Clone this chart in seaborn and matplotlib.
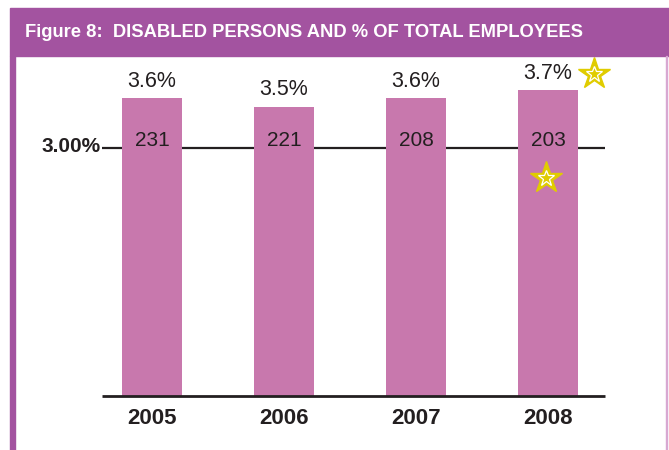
import matplotlib
matplotlib.use("Agg")
import matplotlib.pyplot as plt
import matplotlib.patches as mpatches
import seaborn as sns
import pandas as pd

# Data
years = ["2005", "2006", "2007", "2008"]
pct_of_total = [3.6, 3.5, 3.6, 3.7]
disabled_count = [231, 221, 208, 203]
target_pct = 3.00
title = "Figure 8:  DISABLED PERSONS AND % OF TOTAL EMPLOYEES"

BAR = "#c878ad"
PURPLE = "#a353a0"
INK = "#231f20"
GOLD = "#e0cc00"

sns.set_theme(style="white")
plt.rcParams["font.family"] = ["Liberation Sans", "DejaVu Sans"]

W, H = 669, 450
fig = plt.figure(figsize=(W / 100, H / 100), dpi=100)

# Axes cover the full canvas; limits chosen so bars land in the panel
ax = fig.add_axes([0, 0, 1, 1])
px_per_x = 132.0
px_per_y = 82.67
x0_px, y0_px = 152.0, 396.0
xlim = (-x0_px / px_per_x, (W - x0_px) / px_per_x)
ylim = (-(H - y0_px) / px_per_y, y0_px / px_per_y)

df = pd.DataFrame({"year": years, "pct": pct_of_total, "count": disabled_count})

# Target line behind the bars
ax.plot([-0.38, 3.43], [target_pct, target_pct], color=INK, lw=1.6, zorder=1,
        solid_capstyle="butt")
sns.barplot(data=df, x="year", y="pct", color=BAR, width=0.455, saturation=1,
            linewidth=0, ax=ax, zorder=2)
ax.set_xlim(*xlim)
ax.set_ylim(*ylim)
ax.axis("off")

# Baseline
ax.plot([-0.38, 3.43], [0, 0], color=INK, lw=2.0, zorder=3, solid_capstyle="butt")

for i, (p, c, y) in enumerate(zip(pct_of_total, disabled_count, years)):
    ax.text(i, p + 0.14, f"{p:.1f}%", ha="center", va="baseline", fontsize=15.5,
            color=INK, zorder=4)
    ax.text(i, 3.025, f"{c}", ha="center", va="baseline", fontsize=15,
            color=INK, zorder=4)
    ax.text(i, -0.34, y, ha="center", va="baseline", fontsize=16,
            fontweight="bold", color=INK, zorder=4)

ax.text(-0.39, 2.95, "3.00%", ha="right", va="baseline", fontsize=15,
        fontweight="bold", color=INK)

# Stars beside the 2008 figures
for sx, sy in [(3.35, 3.895), (2.985, 2.636)]:
    ax.plot(sx, sy, marker="*", ms=24, mfc=GOLD, mec=GOLD, zorder=5)
    ax.plot(sx, sy, marker="*", ms=12, mfc=GOLD, mec="white", mew=0.9, zorder=6)

# Frame: header band, left rule, right hairline
fig.patches.append(mpatches.Rectangle((10 / W, 1 - 56 / H), 1 - 10 / W, 48 / H,
                                      transform=fig.transFigure, color=PURPLE,
                                      zorder=0))
fig.patches.append(mpatches.Rectangle((10 / W, 0), 5 / W, 1 - 56 / H,
                                      transform=fig.transFigure, color=PURPLE,
                                      zorder=0))
fig.patches.append(mpatches.Rectangle((666 / W, 0), 1.2 / W, 1 - 56 / H,
                                      transform=fig.transFigure, color="#d8a8d2",
                                      zorder=0))
fig.text(25 / W, 1 - 37 / H, title, ha="left", va="baseline", fontsize=13.25,
         fontweight="bold", color="white")

fig.savefig("out.png", dpi=100, facecolor="white")
